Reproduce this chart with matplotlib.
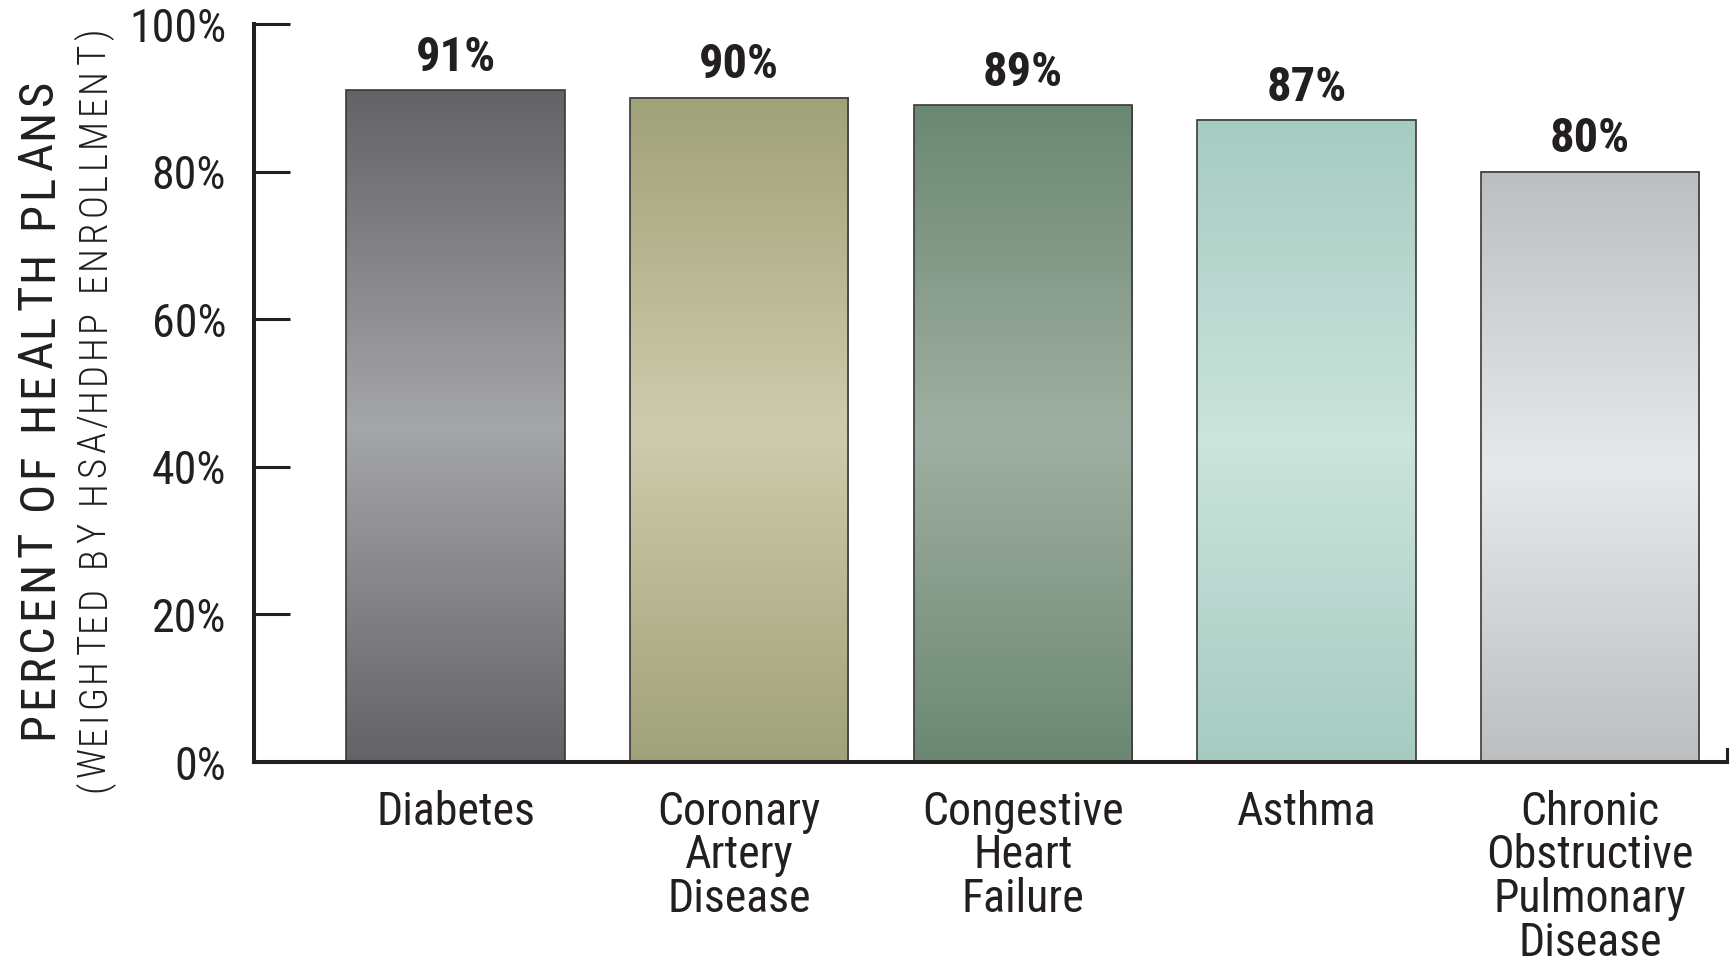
import matplotlib
matplotlib.use('Agg')
import matplotlib.pyplot as plt
from matplotlib.colors import LinearSegmentedColormap
import numpy as np

plt.rcParams['font.family'] = ['Liberation Sans Narrow', 'Roboto Condensed', 'DejaVu Sans']
plt.rcParams['font.stretch'] = 'condensed'

# data
categories = ['Diabetes', 'Coronary\nArtery\nDisease', 'Congestive\nHeart\nFailure',
              'Asthma', 'Chronic\nObstructive\nPulmonary\nDisease']
values = [91, 90, 89, 87, 80]
value_labels = ['91%', '90%', '89%', '87%', '80%']
y_ticks = [0, 20, 40, 60, 80, 100]
y_tick_labels = ['0%', '20%', '40%', '60%', '80%', '100%']
y_title = 'PERCENT OF HEALTH PLANS'
y_subtitle = '(WEIGHTED BY HSA/HDHP ENROLLMENT)'

# (edge colour at top/bottom, light colour in the middle)
bar_shades = [('#636367', '#a5a6aa'),
              ('#a0a278', '#cfcbad'),
              ('#6b8872', '#a0afa3'),
              ('#a6cbc1', '#cbe4dc'),
              ('#bdbec0', '#e7e8e9')]

text_color = '#231f20'
bar_width = 0.77
W, H = 1730, 964


def spaced_vertical(fig, x_px, y_from, y_to, text, **kw):
    """letter-spaced text running bottom to top, filling y_from..y_to (pixels)"""
    renderer = fig.canvas.get_renderer()
    em = kw['fontsize'] * fig.dpi / 72.0
    widths = []
    for ch in text:
        if ch == ' ':
            widths.append(0.3 * em)
            continue
        t = fig.text(0, 0, ch, **kw)
        widths.append(t.get_window_extent(renderer).width)
        t.remove()
    gap = (y_to - y_from - sum(widths)) / (len(text) - 1)
    y = y_from
    for ch, w in zip(text, widths):
        if ch != ' ':
            fig.text(x_px / W, y / H, ch, rotation=90, rotation_mode='anchor',
                     ha='left', va='baseline', **kw)
        y += w + gap


fig = plt.figure(figsize=(W / 100, H / 100), dpi=100)
ax = fig.add_axes([0.1468, 0.2095, 0.8515, 0.7656])

x = np.arange(len(values))
for i, (v, (dark, light)) in enumerate(zip(values, bar_shades)):
    cmap = LinearSegmentedColormap.from_list('shade%d' % i, [dark, light, dark])
    grad = np.linspace(0, 1, 256).reshape(-1, 1)
    ax.imshow(grad, cmap=cmap, aspect='auto', interpolation='bicubic',
              extent=[x[i] - bar_width / 2, x[i] + bar_width / 2, 0, v], zorder=1)
    ax.bar(x[i], v, width=bar_width, facecolor='none', edgecolor='#3a3a3a',
           linewidth=1.2, zorder=2)
    ax.annotate(value_labels[i], (x[i], v), xytext=(0, 14), textcoords='offset points',
                ha='center', va='baseline', fontsize=35, fontweight='bold', color=text_color)

ax.set_xlim(-0.711, 4.483)
ax.set_ylim(0, 100)

ax.set_xticks(x)
ax.set_xticklabels(categories, fontsize=33, color=text_color, linespacing=0.99,
                   va='top')
ax.tick_params(axis='x', length=0, pad=20)

ax.set_yticks(y_ticks)
ax.set_yticklabels(y_tick_labels, fontsize=33, color=text_color)
ax.tick_params(axis='y', direction='in', length=26, width=2.2, color=text_color, pad=20)

ax.spines['top'].set_visible(False)
ax.spines['left'].set_linewidth(2.9)
ax.spines['bottom'].set_linewidth(2.9)
ax.spines['right'].set_linewidth(2.2)
ax.spines['right'].set_bounds(0, 1.8)
for side in ['left', 'bottom', 'right']:
    ax.spines[side].set_color(text_color)

spaced_vertical(fig, 52, H - 739, H - 80, y_title, fontsize=35, color=text_color)
spaced_vertical(fig, 105, H - 792, H - 29, y_subtitle, fontsize=28,
                fontweight='light', color=text_color)

fig.savefig('out.png', dpi=100)
